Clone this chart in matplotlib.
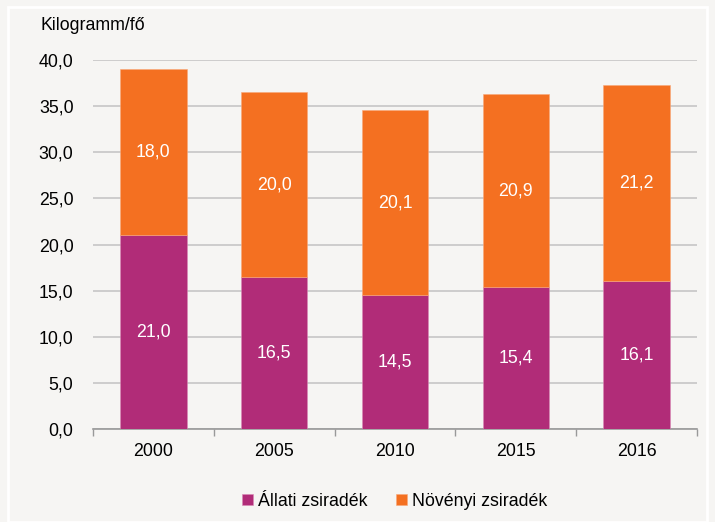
import matplotlib.pyplot as plt
import numpy as np
from matplotlib.patches import Rectangle

plt.rcParams['font.family'] = ['Liberation Sans', 'DejaVu Sans']

years = ['2000', '2005', '2010', '2015', '2016']
allati = [21.0, 16.5, 14.5, 15.4, 16.1]
novenyi = [18.0, 20.0, 20.1, 20.9, 21.2]

c_allati = '#b12c78'
c_noveny = '#f47021'
bg = '#f6f5f3'
fs = 12.8

fig = plt.figure(figsize=(7.15, 5.22), dpi=100, facecolor=bg)
# white frame
fig.patches.append(Rectangle((8 / 715, 0.0), 699 / 715, 1 - 7 / 522, transform=fig.transFigure,
                             fill=False, edgecolor='white', linewidth=2))

ax = fig.add_axes([0.130, 0.178, 0.845, 0.707])
ax.set_facecolor(bg)

x = np.arange(len(years))
w = 0.55
ax.bar(x, allati, w, color=c_allati, edgecolor='#d98ab5', linewidth=0.4, label='Állati zsiradék', zorder=3)
ax.bar(x, novenyi, w, bottom=allati, color=c_noveny, edgecolor='#f9a87a', linewidth=0.4,
       label='Növényi zsiradék', zorder=3)

for i in range(len(years)):
    ax.text(x[i], allati[i] / 2, ('%.1f' % allati[i]).replace('.', ','), ha='center', va='center',
            color='white', fontsize=fs, zorder=4)
    ax.text(x[i], allati[i] + novenyi[i] / 2, ('%.1f' % novenyi[i]).replace('.', ','), ha='center',
            va='center', color='white', fontsize=fs, zorder=4)

ax.set_xlim(-0.5, len(years) - 0.5)
ax.set_ylim(0, 40)
ax.set_yticks(np.arange(0, 41, 5))
ax.set_yticklabels([('%.1f' % v).replace('.', ',') for v in np.arange(0, 41, 5)], fontsize=fs)
ax.yaxis.grid(True, color='#c6c6c6', linewidth=1.2, zorder=0)
ax.tick_params(axis='y', length=0, pad=14)

ax.set_xticks(x)
ax.set_xticklabels(years, fontsize=fs)
ax.set_xticks(np.arange(-0.5, len(years), 1), minor=True)
ax.tick_params(axis='x', which='major', length=0, pad=10)
ax.tick_params(axis='x', which='minor', length=5, color='#999999', width=1)

for s in ['top', 'right', 'left']:
    ax.spines[s].set_visible(False)
ax.spines['bottom'].set_color('#999999')
ax.spines['bottom'].set_linewidth(1.2)

fig.text(40 / 715, 1 - 26 / 522, 'Kilogramm/fő', fontsize=fs, va='center', ha='left')

ax.legend(loc='center', bbox_to_anchor=(0.5, -0.195), ncol=2, frameon=False, fontsize=fs,
          handlelength=0.6, handleheight=0.6, handletextpad=0.3, columnspacing=1.6)

fig.savefig('out.png', dpi=100, facecolor=bg)
